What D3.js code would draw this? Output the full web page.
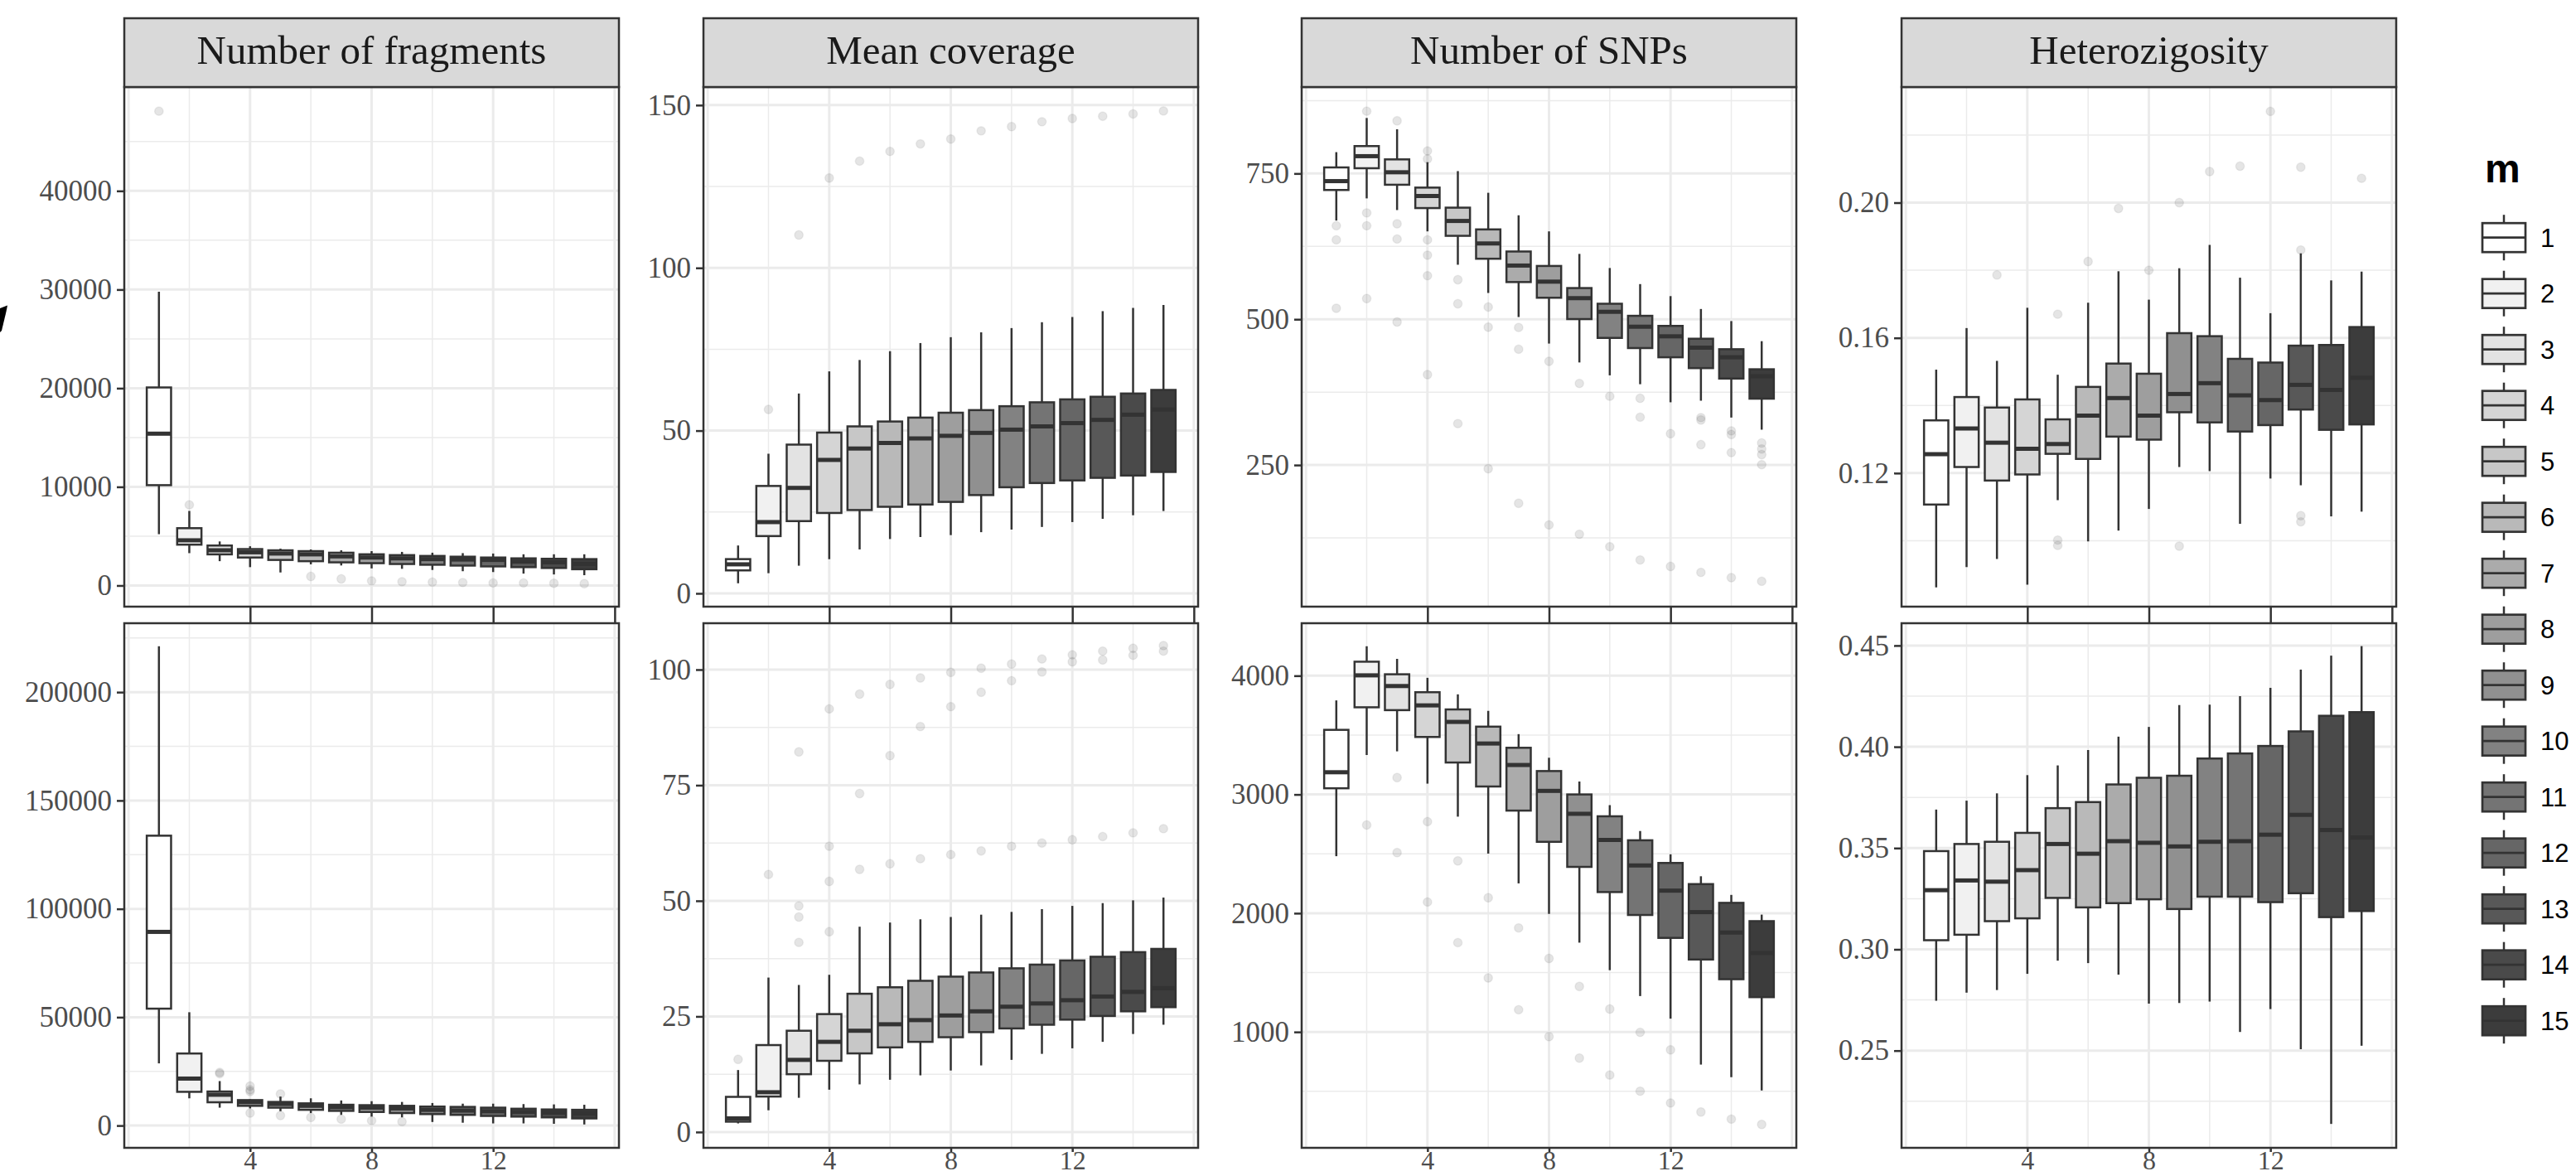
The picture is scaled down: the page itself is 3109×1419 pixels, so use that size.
<!DOCTYPE html>
<html><head><meta charset="utf-8">
<script src="https://cdn.jsdelivr.net/npm/d3@7"></script>
<style>body{margin:0;background:#fff;} svg{display:block;}</style>
</head><body><svg id="c" width="3109" height="1419"></svg>
<script>
// ---------------- DATA ----------------
const mLevels = [1,2,3,4,5,6,7,8,9,10,11,12,13,14,15];
const facetTitles = ["Number of fragments","Mean coverage","Number of SNPs","Heterozigosity"];
const xTickLabels = [4,8,12];

// Number of fragments - row 1
const fragTopLo  = [5200,3280,2465,1860,1320,2145,2030,1732,1690,1573,1447,1362,1203,1119,1043];
const fragTopQ1  = [10170,4140,3155,2835,2590,2464,2346,2262,2178,2103,2018,1934,1859,1775,1648];
const fragTopMed = [15390,4580,3570,3365,3240,3155,2952,2834,2750,2674,2632,2590,2422,2346,2178];
const fragTopQ3  = [20075,5810,4050,3690,3566,3482,3322,3162,3078,2994,2918,2834,2750,2708,2674];
const fragTopHi  = [29780,7560,4465,3978,3734,3650,3566,3482,3406,3322,3280,3238,3162,3162,3162];
const fragTopOut = [[48080],[8175],[],[],[],[917],[673],[471],[387],[345],[303],[261],[261],[227],[185]];
const fragTopTicks = [0,10000,20000,30000,40000];
const fragTopMinor = [5000,15000,25000,35000,45000];
const fragTopRange = [-2145,50530];

// Number of fragments - row 2
const fragBotLo  = [28690,12570,8250,7910,6610,5770,4930,4130,3780,1640,1300,990,990,800,500];
const fragBotQ1  = [53940,15560,10740,9100,8250,7260,6770,6270,5770,5280,4930,4430,4130,3780,3290];
const fragBotMed = [89370,21670,14220,10740,9900,9100,8410,8250,7910,7260,6920,6610,6270,5930,5620];
const fragBotQ3  = [133760,33250,15710,11740,10890,10240,9590,9400,9100,8750,8600,8250,7760,7420,7260];
const fragBotHi  = [221170,52290,20520,12080,13380,12570,11580,11240,10890,10400,10090,10090,9900,9750,9590];
const fragBotOut = [[],[],[23970,24500],[18200,16500,15710,5770],[14560,4620],[3780],[2980],[2290],[1800],[],[],[],[],[],[]];
const fragBotTicks = [0,50000,100000,150000,200000];
const fragBotMinor = [25000,75000,125000,175000,225000];
const fragBotRange = [-10280,231800];

// Mean coverage - row 1
const covTopLo  = [3.1,6.2,8.5,10.5,13.5,16.7,17.3,17.9,18.8,19.6,20.4,21.9,22.9,24.0,25.3];
const covTopQ1  = [7.06,17.6,22.2,24.7,25.6,26.6,27.3,28.1,30.2,32.6,33.9,34.7,35.5,36.2,37.3];
const covTopMed = [8.92,21.9,32.4,41.0,44.5,46.2,47.6,48.4,49.3,50.3,51.3,52.3,53.3,54.9,56.5];
const covTopQ3  = [10.52,33.0,45.7,49.4,51.3,52.8,54.0,55.5,56.3,57.5,58.7,59.6,60.4,61.4,62.5];
const covTopHi  = [14.71,42.9,61.4,68.2,71.7,74.4,76.9,78.7,80.2,81.5,83.3,84.9,86.7,87.7,88.6];
const covTopOut = [[],[56.5],[110.1],[127.6],[132.8],[135.8],[138.1],[139.6],[142.1],[143.4],[144.9],[145.9],[146.6],[147.3],[148.2]];
const covTopTicks = [0,50,100,150];
const covTopMinor = [25,75,125];
const covTopRange = [-4.08,155.56];

// Mean coverage - row 2
const covBotLo  = [1.86,4.7,7.4,9.15,10.3,11.3,12.25,13.3,14.4,15.6,16.9,18.1,19.5,21.2,23.2];
const covBotQ1  = [2.24,7.67,12.5,15.4,17.0,18.3,19.5,20.5,21.6,22.4,23.2,24.3,25.1,26.1,27.0];
const covBotMed = [2.94,8.6,15.6,19.5,21.9,23.3,24.2,25.2,26.1,27.1,27.8,28.5,29.3,30.3,31.1];
const covBotQ3  = [7.6,18.8,21.9,25.5,29.9,31.3,32.7,33.6,34.5,35.4,36.2,37.1,37.9,38.9,39.6];
const covBotHi  = [13.4,33.4,31.8,34.0,44.4,45.3,46.0,46.5,47.0,47.6,48.2,48.9,49.5,50.1,50.7];
const covBotOut = [[15.7],[55.7],[82.2,48.9,46.5,41.0],[91.5,61.8,54.2,43.3],[94.7,73.2,56.8],[96.8,81.4,58.0],[98.2,87.7,59.1],[99.4,92.0,60.0],[100.3,95.1,60.8],[101.2,97.6,61.8],[102.3,99.5,62.5],[103.2,101.7,63.2],[104.0,102.1,63.9],[104.6,103.1,64.7],[105.2,104.0,65.6]];
const covBotTicks = [0,25,50,75,100];
const covBotMinor = [12.5,37.5,62.5,87.5];
const covBotRange = [-3.42,110.03];

// Number of SNPs - row 1
const snpTopLo  = [669.3,707.3,687.3,650.7,593.5,545.1,503.8,458.3,425.9,403.8,388.6,357.6,360.3,331.4,310.6];
const snpTopQ1  = [721.7,759.0,730.7,690.7,643.1,603.8,563.8,536.9,500.3,468.0,450.6,434.8,416.2,398.3,363.8];
const snpTopMed = [736.9,779.7,752.1,711.4,668.6,630.0,592.1,564.5,536.2,512.8,487.2,470.7,451.3,434.8,402.4];
const snpTopQ3  = [760.4,797.0,774.2,725.8,691.4,654.1,616.2,591.4,553.5,526.6,505.9,488.6,466.6,448.6,414.2];
const snpTopHi  = [786.6,845.2,825.8,769.4,754.1,716.9,678.3,650.7,612.1,587.9,560.3,539.7,517.6,496.9,462.4];
const snpTopOut = [[660.4,636.2,518.9],[856.9,682.4,660.4,535.5],[840.4,663.8,637.6,495.4],[788.7,774.9,636.2,610.0,574.8,405.1],[567.9,526.6,321.0],[521.0,486.5,243.7],[485.9,448.6,184.4],[427.9,147.3],[390.0,131.3],[367.9,110.0],[364.5,332.1,87.2],[303.8,76.1],[331.4,327.3,284.9,65.9],[308.6,302.3,271.3,56.9],[287.8,277.6,267.9,250.7,50.6]];
const snpTopTicks = [250,500,750];
const snpTopMinor = [125,375,625,875];
const snpTopRange = [7.1,898.3];

// Number of SNPs - row 2
const snpBotLo  = [2480,3332,3363,3091,2813,2502,2251,1994,1752,1520,1302,1112,725,619,507];
const snpBotQ1  = [3052,3734,3710,3484,3269,3067,2864,2601,2390,2178,1985,1792,1610,1444,1293];
const snpBotMed = [3187,4003,3913,3750,3611,3429,3248,3030,2837,2617,2402,2190,2009,1837,1665];
const snpBotQ3  = [3544,4118,4012,3861,3716,3571,3393,3197,3000,2816,2614,2423,2245,2087,1933];
const snpBotHi  = [3792,4248,4142,3982,3843,3704,3508,3309,3109,2910,2692,2496,2311,2154,1988];
const snpBotOut = [[],[2743],[3142,2510],[2771,2094],[2441,1752],[2130,1455],[1876,1187],[1619,961],[1383,780],[1193,637],[997,501],[849,402],[326],[266],[221]];
const snpBotTicks = [1000,2000,3000,4000];
const snpBotMinor = [500,1500,2500,3500];
const snpBotRange = [24,4442];

// Heterozigosity - row 1
const hetTopLo  = [0.0862,0.0922,0.0946,0.0870,0.1120,0.0998,0.1030,0.1094,0.1218,0.1206,0.1050,0.1184,0.1164,0.1072,0.1086];
const hetTopQ1  = [0.1107,0.1218,0.1178,0.1196,0.1257,0.1242,0.1308,0.1299,0.1380,0.1350,0.1323,0.1342,0.1388,0.1328,0.1344];
const hetTopMed = [0.1256,0.1332,0.1290,0.1272,0.1286,0.1370,0.1422,0.1370,0.1434,0.1466,0.1430,0.1416,0.1461,0.1446,0.1482];
const hetTopQ3  = [0.1356,0.1425,0.1394,0.1418,0.1359,0.1455,0.1524,0.1494,0.1614,0.1605,0.1538,0.1527,0.1577,0.1579,0.1632];
const hetTopHi  = [0.1506,0.1629,0.1532,0.1689,0.1491,0.1704,0.1797,0.1713,0.1806,0.1875,0.1778,0.1673,0.1850,0.1770,0.1796];
const hetTopOut = [[],[],[0.1786],[],[0.1670,0.1002,0.0986],[0.1826],[0.1983],[0.1800],[0.2000,0.0984],[0.2092],[0.2108],[0.2270],[0.2105,0.1860,0.1074,0.1056],[],[0.2072]];
const hetTopTicks = [0.12,0.16,0.20];
const hetTopMinor = [0.10,0.14,0.18,0.22];
const hetTopRange = [0.0805,0.2342];

// Heterozigosity - row 2
const hetBotLo  = [0.2746,0.2786,0.2799,0.2879,0.2944,0.2932,0.2875,0.2732,0.2735,0.2742,0.2592,0.2705,0.2507,0.2138,0.2524];
const hetBotQ1  = [0.3045,0.3072,0.3139,0.3153,0.3254,0.3207,0.3228,0.3247,0.3199,0.3260,0.3260,0.3233,0.3277,0.3159,0.3189];
const hetBotMed = [0.3292,0.3340,0.3334,0.3391,0.3520,0.3472,0.3534,0.3526,0.3508,0.3531,0.3534,0.3566,0.3664,0.3589,0.3552];
const hetBotQ3  = [0.3485,0.3520,0.3531,0.3575,0.3697,0.3727,0.3814,0.3847,0.3857,0.3942,0.3967,0.4004,0.4076,0.4153,0.4171];
const hetBotHi  = [0.3690,0.3734,0.3770,0.3860,0.3908,0.3984,0.4050,0.4098,0.4206,0.4208,0.4250,0.4291,0.4381,0.4450,0.4497];
const hetBotOut = [[],[],[],[],[],[],[],[],[],[],[],[],[],[],[]];
const hetBotTicks = [0.25,0.30,0.35,0.40,0.45];
const hetBotMinor = [0.225,0.275,0.325,0.375,0.425];
const hetBotRange = [0.202,0.461];

// ---------------- LAYOUT ----------------
const W = 3109, H = 1419;
const colLeft = [150, 849, 1571, 2295];
const colW = 597;
const rowY = [[105, 732], [752, 1385]];
const stripY = [22, 105];
const lineCol = "#333333";
const serif = "'Liberation Serif', 'Times New Roman', serif";
const sans = "'Liberation Sans', Arial, sans-serif";

const fill = d3.scaleLinear().domain([1, 15]).range(["#ffffff", "#3c3c3c"]);
const xBase = d3.scaleLinear().domain([-0.14, 16.14]);

const panels = [
  {col:0,row:0,lo:fragTopLo,q1:fragTopQ1,med:fragTopMed,q3:fragTopQ3,hi:fragTopHi,out:fragTopOut,ticks:fragTopTicks,minor:fragTopMinor,dom:fragTopRange,fmt:d3.format("d")},
  {col:0,row:1,lo:fragBotLo,q1:fragBotQ1,med:fragBotMed,q3:fragBotQ3,hi:fragBotHi,out:fragBotOut,ticks:fragBotTicks,minor:fragBotMinor,dom:fragBotRange,fmt:d3.format("d")},
  {col:1,row:0,lo:covTopLo,q1:covTopQ1,med:covTopMed,q3:covTopQ3,hi:covTopHi,out:covTopOut,ticks:covTopTicks,minor:covTopMinor,dom:covTopRange,fmt:d3.format("d")},
  {col:1,row:1,lo:covBotLo,q1:covBotQ1,med:covBotMed,q3:covBotQ3,hi:covBotHi,out:covBotOut,ticks:covBotTicks,minor:covBotMinor,dom:covBotRange,fmt:d3.format("d")},
  {col:2,row:0,lo:snpTopLo,q1:snpTopQ1,med:snpTopMed,q3:snpTopQ3,hi:snpTopHi,out:snpTopOut,ticks:snpTopTicks,minor:snpTopMinor,dom:snpTopRange,fmt:d3.format("d")},
  {col:2,row:1,lo:snpBotLo,q1:snpBotQ1,med:snpBotMed,q3:snpBotQ3,hi:snpBotHi,out:snpBotOut,ticks:snpBotTicks,minor:snpBotMinor,dom:snpBotRange,fmt:d3.format("d")},
  {col:3,row:0,lo:hetTopLo,q1:hetTopQ1,med:hetTopMed,q3:hetTopQ3,hi:hetTopHi,out:hetTopOut,ticks:hetTopTicks,minor:hetTopMinor,dom:hetTopRange,fmt:d3.format(".2f")},
  {col:3,row:1,lo:hetBotLo,q1:hetBotQ1,med:hetBotMed,q3:hetBotQ3,hi:hetBotHi,out:hetBotOut,ticks:hetBotTicks,minor:hetBotMinor,dom:hetBotRange,fmt:d3.format(".2f")}
];

const svg = d3.select("#c");
svg.append("rect").attr("width", W).attr("height", H).attr("fill", "#fff");

// cropped label artifact at far left
svg.append("path").attr("d", "M0,372 L9,368.5 L7.5,376 L2,399 L0,401 Z").attr("fill", "#000");

function styleAxis(g, fontSize) {
  g.select(".domain").remove();
  g.selectAll(".tick line").attr("stroke", lineCol).attr("stroke-width", 2.5);
  g.selectAll(".tick text").attr("fill", "#4d4d4d").attr("font-family", serif).attr("font-size", fontSize);
}

panels.forEach(p => {
  const x0 = colLeft[p.col], x1 = x0 + colW;
  const [y0, y1] = rowY[p.row];
  const xs = xBase.copy().range([x0, x1]);
  const ys = d3.scaleLinear().domain(p.dom).range([y1, y0]);
  const g = svg.append("g");

  g.append("rect").attr("x", x0).attr("y", y0).attr("width", colW).attr("height", y1 - y0).attr("fill", "#fff");

  // grid
  const gridG = g.append("g");
  gridG.selectAll(".yminor").data(p.minor).join("line")
    .attr("x1", x0).attr("x2", x1).attr("y1", d => ys(d)).attr("y2", d => ys(d))
    .attr("stroke", "#ebebeb").attr("stroke-width", 1.5);
  gridG.selectAll(".xminor").data([2, 6, 10, 14]).join("line")
    .attr("y1", y0).attr("y2", y1).attr("x1", d => xs(d)).attr("x2", d => xs(d))
    .attr("stroke", "#ebebeb").attr("stroke-width", 1.5);
  gridG.selectAll(".ymajor").data(p.ticks).join("line")
    .attr("x1", x0).attr("x2", x1).attr("y1", d => ys(d)).attr("y2", d => ys(d))
    .attr("stroke", "#ebebeb").attr("stroke-width", 3);
  gridG.selectAll(".xmajor").data([0, 4, 8, 12, 16]).join("line")
    .attr("y1", y0).attr("y2", y1).attr("x1", d => xs(d)).attr("x2", d => xs(d))
    .attr("stroke", "#ebebeb").attr("stroke-width", 3);

  const boxes = mLevels.map((m, i) => ({m, lo: p.lo[i], q1: p.q1[i], med: p.med[i], q3: p.q3[i], hi: p.hi[i], out: p.out[i]}));
  const bw = xs(0.4) - xs(0);

  // outliers
  const pts = boxes.flatMap(b => b.out.map(v => ({m: b.m, v})));
  g.append("g").selectAll("circle").data(pts).join("circle")
    .attr("cx", d => xs(d.m)).attr("cy", d => ys(d.v)).attr("r", 5.2)
    .attr("fill", "#000").attr("fill-opacity", 0.1)
    .attr("stroke", "#000").attr("stroke-opacity", 0.06).attr("stroke-width", 1.5);

  const bg = g.append("g").selectAll("g").data(boxes).join("g");
  bg.append("line").attr("x1", d => xs(d.m)).attr("x2", d => xs(d.m))
    .attr("y1", d => ys(d.hi)).attr("y2", d => ys(d.q3)).attr("stroke", lineCol).attr("stroke-width", 2.5);
  bg.append("line").attr("x1", d => xs(d.m)).attr("x2", d => xs(d.m))
    .attr("y1", d => ys(d.q1)).attr("y2", d => ys(d.lo)).attr("stroke", lineCol).attr("stroke-width", 2.5);
  bg.append("rect").attr("x", d => xs(d.m) - bw).attr("width", 2 * bw)
    .attr("y", d => ys(d.q3)).attr("height", d => Math.max(0.5, ys(d.q1) - ys(d.q3)))
    .attr("fill", d => fill(d.m)).attr("stroke", lineCol).attr("stroke-width", 2.5);
  bg.append("line").attr("x1", d => xs(d.m) - bw).attr("x2", d => xs(d.m) + bw)
    .attr("y1", d => ys(d.med)).attr("y2", d => ys(d.med)).attr("stroke", lineCol).attr("stroke-width", 5);

  // panel border
  g.append("rect").attr("x", x0).attr("y", y0).attr("width", colW).attr("height", y1 - y0)
    .attr("fill", "none").attr("stroke", lineCol).attr("stroke-width", 2.5);

  // y axis
  const ya = g.append("g").attr("transform", `translate(${x0},0)`)
    .call(d3.axisLeft(ys).tickValues(p.ticks).tickFormat(p.fmt).tickSize(9).tickPadding(6));
  styleAxis(ya, 35);

  // x axis
  if (p.row === 0) {
    const xa = g.append("g").attr("transform", `translate(0,${y1})`)
      .call(d3.axisBottom(xs).tickValues([4, 8, 12, 16]).tickFormat("").tickSize(rowY[1][0] - y1));
    styleAxis(xa, 35);
  } else {
    const xa = g.append("g").attr("transform", `translate(0,${y1})`)
      .call(d3.axisBottom(xs).tickValues(xTickLabels).tickFormat(d3.format("d")).tickSize(5).tickPadding(0));
    styleAxis(xa, 32);
    xa.selectAll(".tick text").attr("dy", null).attr("y", 26);
  }
});

// strips
facetTitles.forEach((t, c) => {
  const x0 = colLeft[c];
  svg.append("rect").attr("x", x0).attr("y", stripY[0]).attr("width", colW).attr("height", stripY[1] - stripY[0])
    .attr("fill", "#d9d9d9").attr("stroke", lineCol).attr("stroke-width", 2.5);
  svg.append("text").attr("x", x0 + colW / 2).attr("y", 77).attr("text-anchor", "middle")
    .attr("font-family", serif).attr("font-size", 49).attr("fill", "#1a1a1a").text(t);
});

// legend
const lg = svg.append("g");
lg.append("text").attr("x", 2999).attr("y", 220).attr("font-family", sans).attr("font-weight", "bold")
  .attr("font-size", 48).attr("fill", "#000").text("m");
const keyY = d3.scaleLinear().domain([1, 15]).range([286.7, 286.7 + 14 * 67.5]);
const keys = lg.selectAll(".key").data(mLevels).join("g");
keys.append("line").attr("x1", 3022).attr("x2", 3022).attr("y1", d => keyY(d) - 27.5).attr("y2", d => keyY(d) + 27.5)
  .attr("stroke", lineCol).attr("stroke-width", 2.5);
keys.append("rect").attr("x", 2996).attr("width", 52).attr("y", d => keyY(d) - 17.5).attr("height", 35)
  .attr("fill", d => fill(d)).attr("stroke", lineCol).attr("stroke-width", 2.7);
keys.append("line").attr("x1", 2996).attr("x2", 3048).attr("y1", d => keyY(d)).attr("y2", d => keyY(d))
  .attr("stroke", lineCol).attr("stroke-width", 2.7);
keys.append("text").attr("x", 3066).attr("y", d => keyY(d)).attr("dy", "0.36em")
  .attr("font-family", sans).attr("font-size", 31).attr("fill", "#000").text(d => d);
</script>
</body></html>
